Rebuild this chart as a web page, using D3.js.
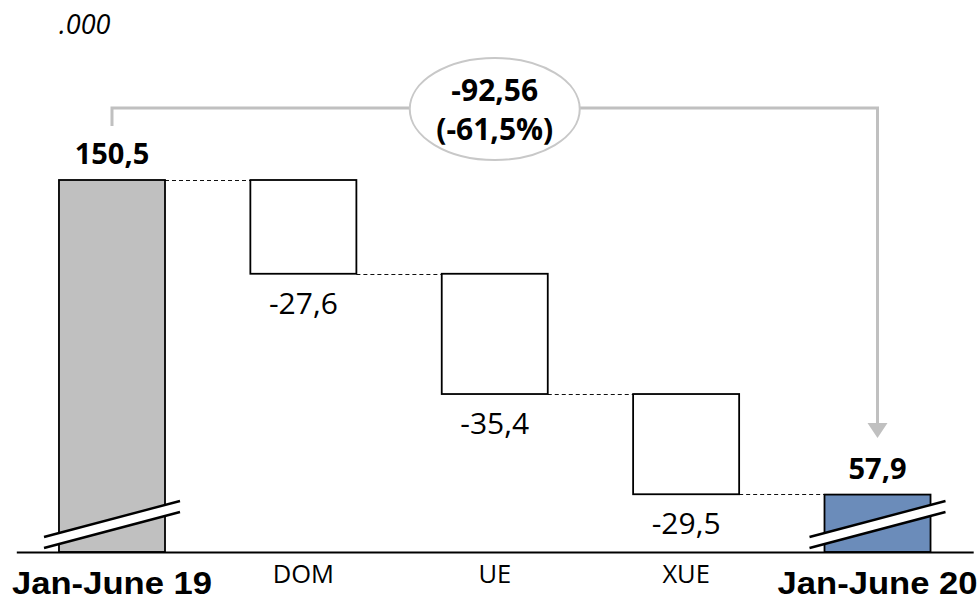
<!DOCTYPE html>
<html>
<head>
<meta charset="utf-8">
<script src="https://cdn.jsdelivr.net/npm/d3@7/dist/d3.min.js"></script>
<style>
  html, body { margin: 0; padding: 0; background: #fff; }
  svg { display: block; }
</style>
</head>
<body>
<svg id="chart" width="978" height="602"></svg>
<script>
// Waterfall: first half 2019 -> contributions -> first half 2020
const categories = ["Jan-June 19", "DOM", "UE", "XUE", "Jan-June 20"];
const values = [150.5, -27.6, -35.4, -29.5, 57.9];
const kinds = ["total", "delta", "delta", "delta", "total"];
const totalChange = -92.56;
const pctChange = -61.5;
const unitLabel = ".000";
const axisFloor = 41; // value shown at the (broken) baseline

const W = 978, H = 602;
const baseY = 552;
const svg = d3.select("#chart");

const loc = d3.formatLocale({ decimal: ",", thousands: ".", grouping: [3], currency: ["", ""], minus: "-" });
const f1 = loc.format(".1f");
const f2 = loc.format(".2f");

const x = d3.scaleBand()
  .domain(categories)
  .range([16.3, 973.2])
  .paddingInner(0.446)
  .paddingOuter(0.223);

const y = d3.scaleLinear()
  .domain([axisFloor, 150.5])
  .range([baseY, 180]);

// running levels for each step
let running = 0;
const rows = categories.map((c, i) => {
  const v = values[i];
  let top, bottom;
  if (kinds[i] === "total") {
    running = v;
    top = v; bottom = axisFloor;
  } else {
    const start = running;
    running = running + v;
    top = start; bottom = running;
  }
  return { cat: c, value: v, kind: kinds[i], top, bottom, level: running, i };
});

const fills = ["#c0c0c0", "#ffffff", "#ffffff", "#ffffff", "#6b8cba"];
const sans = "'Open Sans', 'Noto Sans', sans-serif";

// dashed connectors between consecutive steps
const links = rows.slice(0, -1).map((r, i) => ({ from: r, to: rows[i + 1] }));
svg.append("g").selectAll("line").data(links).join("line")
  .attr("x1", d => x(d.from.cat) + x.bandwidth())
  .attr("x2", d => x(d.to.cat))
  .attr("y1", d => Math.round(y(d.from.level)) + 0.5)
  .attr("y2", d => Math.round(y(d.from.level)) + 0.5)
  .attr("stroke", "#111")
  .attr("stroke-width", 1)
  .attr("stroke-dasharray", "4,3");

// bars
svg.append("g").selectAll("rect").data(rows).join("rect")
  .attr("x", d => x(d.cat))
  .attr("width", x.bandwidth())
  .attr("y", d => y(d.top))
  .attr("height", d => y(d.bottom) - y(d.top))
  .attr("fill", (d, i) => fills[i])
  .attr("stroke", "#000")
  .attr("stroke-width", 1.8);

// axis baseline with category labels
const axis = svg.append("g")
  .attr("transform", `translate(0,${baseY})`)
  .call(d3.axisBottom(x).tickSize(0).tickPadding(0));
axis.select(".domain").attr("stroke", "#000").attr("stroke-width", 2);
axis.selectAll(".tick text")
  .attr("dy", null)
  .attr("y", (d, i) => kinds[i] === "total" ? 42 : 31)
  .attr("fill", "#000")
  .style("font-family", (d, i) => kinds[i] === "total" ? "'Liberation Sans', Arial, sans-serif" : sans)
  .style("font-weight", (d, i) => kinds[i] === "total" ? "bold" : "normal")
  .style("font-size", (d, i) => kinds[i] === "total" ? "31px" : "25.5px");
axis.selectAll(".tick text")
  .filter((d, i) => kinds[i] === "total")
  .attr("textLength", 200)
  .attr("lengthAdjust", "spacingAndGlyphs");

// axis break marks on the total bars
const totals = rows.filter(d => d.kind === "total");
const breaks = svg.append("g").selectAll("g").data(totals).join("g")
  .attr("transform", d => `translate(${x(d.cat) + x.bandwidth() / 2},${baseY})`);
breaks.append("polygon")
  .attr("points", "-68,-15 68,-51 68,-40 -68,-4")
  .attr("fill", "#fff");
breaks.append("line")
  .attr("x1", -68).attr("y1", -15).attr("x2", 68).attr("y2", -51)
  .attr("stroke", "#000").attr("stroke-width", 2.4);
breaks.append("line")
  .attr("x1", -68).attr("y1", -4).attr("x2", 68).attr("y2", -40)
  .attr("stroke", "#000").attr("stroke-width", 2.4);

// value labels
svg.append("g").selectAll("text").data(rows).join("text")
  .attr("x", d => x(d.cat) + x.bandwidth() / 2)
  .attr("y", d => d.kind === "total" ? y(d.top) - 16 : y(d.bottom) + 40)
  .attr("text-anchor", "middle")
  .style("font-family", sans)
  .style("font-size", d => d.kind === "total" ? "29px" : "30px")
  .style("font-weight", d => d.kind === "total" ? "bold" : "normal")
  .attr("fill", "#000")
  .text(d => f1(d.value));

// overall change bracket
const first = rows[0], last = rows[rows.length - 1];
const cx0 = x(first.cat) + x.bandwidth() / 2;
const cx1 = x(last.cat) + x.bandwidth() / 2;
const bracketY = 108;
const arrowTip = 438;
svg.append("path")
  .attr("d", `M${cx0},${y(first.top) - 54} V${bracketY} H${cx1} V${arrowTip - 14}`)
  .attr("fill", "none")
  .attr("stroke", "#c0c0c0")
  .attr("stroke-width", 3);
svg.append("path")
  .attr("d", `M${cx1 - 10},${arrowTip - 15} L${cx1 + 10},${arrowTip - 15} L${cx1},${arrowTip} Z`)
  .attr("fill", "#c0c0c0");

const midX = (cx0 + cx1) / 2;
svg.append("ellipse")
  .attr("cx", midX).attr("cy", 109)
  .attr("rx", 85).attr("ry", 51)
  .attr("fill", "#fff")
  .attr("stroke", "#c8c8c8")
  .attr("stroke-width", 2);
const changeText = svg.append("text")
  .attr("text-anchor", "middle")
  .style("font-family", sans)
  .style("font-size", "30px")
  .style("font-weight", "bold")
  .attr("fill", "#000");
changeText.append("tspan").attr("x", midX).attr("y", 101).text(f2(totalChange));
changeText.append("tspan").attr("x", midX).attr("y", 140).text(`(${f1(pctChange)}%)`);

// unit note
svg.append("text")
  .attr("x", 59).attr("y", 34)
  .style("font-family", sans)
  .style("font-size", "27px")
  .style("font-style", "italic")
  .attr("fill", "#000")
  .text(unitLabel);
</script>
</body>
</html>
